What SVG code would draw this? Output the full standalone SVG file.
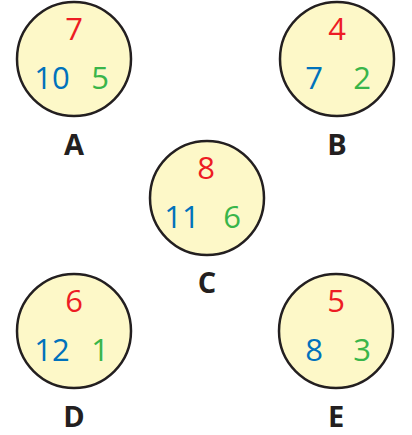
<svg xmlns="http://www.w3.org/2000/svg" width="412" height="435" viewBox="0 0 412 435">
  <style>
    .disc { fill: #fdf8c8; stroke: #231f20; stroke-width: 2.5; }
    .num { font-family: "Open Sans", "Liberation Sans", sans-serif; font-size: 31px; text-anchor: middle; }
    .top { fill: #ed1c24; }
    .left { fill: #0072bc; }
    .right { fill: #39b54a; }
    .label { font-family: "Open Sans", "Liberation Sans", sans-serif; font-size: 29px; font-weight: bold; fill: #231f20; text-anchor: middle; }
  </style>
  <g id="connectors"/>
  <g id="node-A">
    <circle class="disc" cx="74" cy="59" r="57"/>
    <text class="num top" x="74" y="40">7</text>
    <text class="num left" x="52" y="89">10</text>
    <text class="num right" x="100" y="89">5</text>
    <text class="label" x="74" y="155">A</text>
  </g>
  <g id="node-B">
    <circle class="disc" cx="337" cy="59" r="57"/>
    <text class="num top" x="337" y="40">4</text>
    <text class="num left" x="314" y="89">7</text>
    <text class="num right" x="362" y="89">2</text>
    <text class="label" x="337" y="155">B</text>
  </g>
  <g id="node-C">
    <circle class="disc" cx="207" cy="198" r="57"/>
    <text class="num top" x="206" y="179">8</text>
    <text class="num left" x="182" y="228">11</text>
    <text class="num right" x="232" y="228">6</text>
    <text class="label" x="207" y="293">C</text>
  </g>
  <g id="node-D">
    <circle class="disc" cx="74" cy="331" r="57"/>
    <text class="num top" x="74" y="312">6</text>
    <text class="num left" x="52" y="361">12</text>
    <text class="num right" x="100" y="361">1</text>
    <text class="label" x="74" y="427">D</text>
  </g>
  <g id="node-E">
    <circle class="disc" cx="336" cy="331" r="57"/>
    <text class="num top" x="336" y="312">5</text>
    <text class="num left" x="314" y="361">8</text>
    <text class="num right" x="362" y="361">3</text>
    <text class="label" x="336" y="427">E</text>
  </g>
</svg>
